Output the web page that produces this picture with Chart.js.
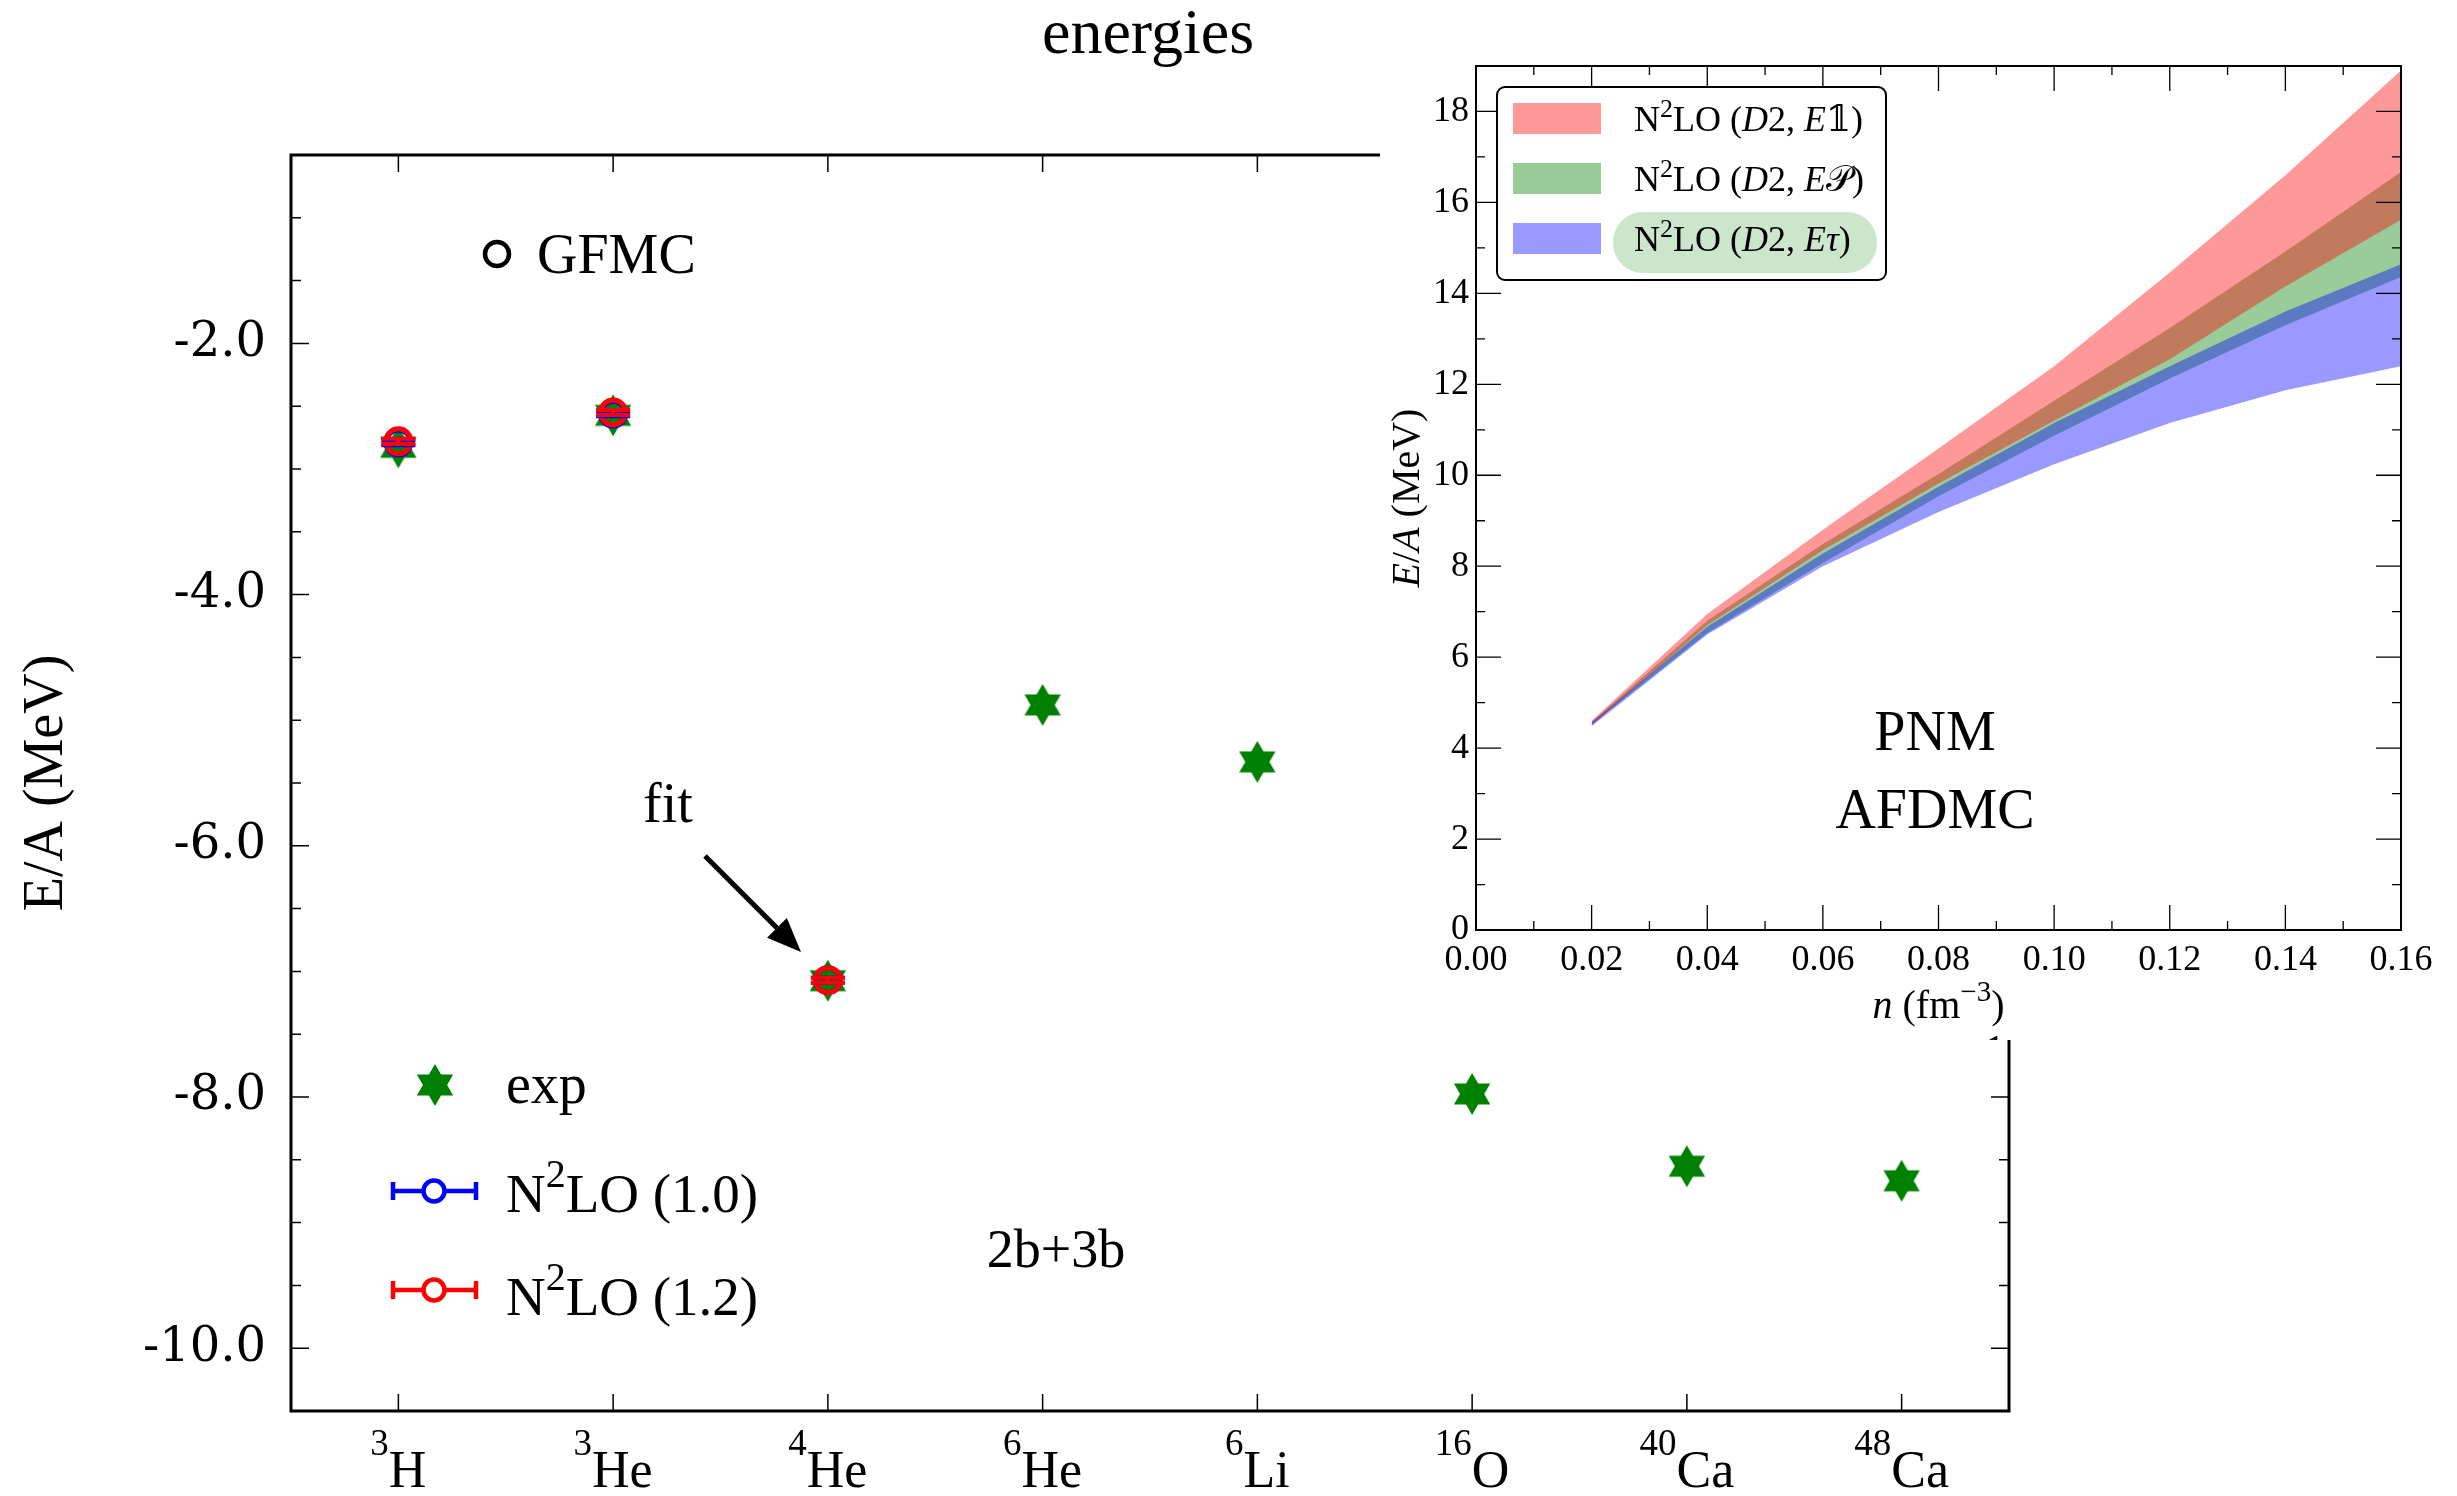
<!DOCTYPE html>
<html>
<head>
<meta charset="utf-8">
<title>energies</title>
<script src="https://cdn.jsdelivr.net/npm/chart.js@4.4.1/dist/chart.umd.min.js"></script>
<style>
  html, body { margin: 0; padding: 0; background: #fff; }
  #wrap { position: relative; width: 2457px; height: 1496px; overflow: hidden; }
  #mainChart { position: absolute; left: 0; top: 0; }
  #pnmChart { position: absolute; left: 1380px; top: 0; background: #fff; }
</style>
</head>
<body>
<div id="wrap">
  <canvas id="mainChart" width="2457" height="1496"></canvas>
  <canvas id="pnmChart" width="1077" height="1040"></canvas>
</div>
<script>
// nuclei along the x axis
const massNumbers = ['3', '3', '4', '6', '6', '16', '40', '48'];
const elements = ['H', 'He', 'He', 'He', 'Li', 'O', 'Ca', 'Ca'];
// experimental E/A (MeV)
const expEnergy = [-2.827, -2.573, -7.074, -4.878, -5.332, -7.976, -8.551, -8.667];
// N2LO results for 3H, 3He, 4He
const n2loIdx = [0, 1, 2];
const n2lo10 = [-2.79, -2.56, -7.07];
const n2lo10Err = [0.02, 0.02, 0.02];
const n2lo12 = [-2.78, -2.55, -7.07];
const n2lo12Err = [0.02, 0.02, 0.02];

// pure neutron matter, AFDMC bands
const density = [0.02, 0.04, 0.06, 0.08, 0.10, 0.12, 0.14, 0.16];
const e1Low = [4.50, 6.70, 8.35, 9.82, 11.20, 12.55, 14.15, 15.62];
const e1High = [4.60, 6.95, 8.80, 10.59, 12.40, 14.46, 16.60, 18.90];
const ePLow = [4.52, 6.53, 8.07, 9.54, 10.87, 12.13, 13.30, 14.36];
const ePHigh = [4.58, 6.80, 8.49, 10.03, 11.64, 13.24, 14.92, 16.67];
const eTauLow = [4.48, 6.50, 8.00, 9.19, 10.24, 11.15, 11.87, 12.40];
const eTauHigh = [4.56, 6.67, 8.28, 9.75, 11.15, 12.40, 13.60, 14.64];

const SERIF = '"Liberation Serif", "DejaVu Serif", serif';
const RED_BAND = 'rgba(255,0,0,0.4)';
const GREEN_BAND = 'rgba(0,128,0,0.4)';
const BLUE_BAND = 'rgba(0,0,255,0.4)';

Chart.defaults.font.family = SERIF;
Chart.defaults.color = '#000';

// six-pointed star used for the experimental points
function makeStar(r, color) {
  const c = document.createElement('canvas');
  const s = Math.ceil(r * 2 + 2);
  c.width = s; c.height = s;
  const g = c.getContext('2d');
  g.fillStyle = color;
  [-90, 90].forEach(a0 => {
    g.beginPath();
    for (let k = 0; k < 3; k++) {
      const a = (a0 + k * 120) * Math.PI / 180;
      const px = s / 2 + r * Math.cos(a), py = s / 2 + r * Math.sin(a);
      if (k) g.lineTo(px, py); else g.moveTo(px, py);
    }
    g.closePath();
    g.fill();
  });
  return c;
}
const starImg = makeStar(21, '#008000');

// text made of runs: [text, kind] with kind '' normal, 'i' italic, 's' superscript
function drawRuns(ctx, runs, x, y, size, align, raise) {
  raise = raise === undefined ? 0.45 : raise;
  const fontFor = k => (k === 'i' ? 'italic ' : '') + Math.round(k === 's' ? size * 0.72 : size) + 'px ' + SERIF;
  let w = 0;
  runs.forEach(([t, k]) => { ctx.font = fontFor(k); w += ctx.measureText(t).width; });
  let cx = align === 'center' ? x - w / 2 : align === 'right' ? x - w : x;
  ctx.textAlign = 'left';
  ctx.textBaseline = 'alphabetic';
  runs.forEach(([t, k]) => {
    ctx.font = fontFor(k);
    ctx.fillText(t, cx, k === 's' ? y - size * raise : y);
    cx += ctx.measureText(t).width;
  });
  return w;
}

function errCircle(ctx, cx, cy, col) {
  ctx.strokeStyle = col;
  ctx.lineWidth = 4.5;
  ctx.beginPath();
  ctx.moveTo(cx - 41, cy); ctx.lineTo(cx + 42, cy);
  ctx.moveTo(cx - 41, cy - 9); ctx.lineTo(cx - 41, cy + 9);
  ctx.moveTo(cx + 42, cy - 9); ctx.lineTo(cx + 42, cy + 9);
  ctx.stroke();
  ctx.fillStyle = '#fff';
  ctx.beginPath();
  ctx.arc(cx, cy, 10.5, 0, Math.PI * 2);
  ctx.fill();
  ctx.stroke();
}

const mainDecor = {
  id: 'mainDecor',
  afterDatasetsDraw(chart) {
    const { ctx, scales: { x, y } } = chart;
    ctx.save();
    // error bars with caps
    [[n2lo10, n2lo10Err, '#0000ff'], [n2lo12, n2lo12Err, '#ff0000']].forEach(([vals, errs, col]) => {
      ctx.strokeStyle = col;
      ctx.lineWidth = 4;
      vals.forEach((v, i) => {
        const px = x.getPixelForValue(n2loIdx[i]);
        const yl = y.getPixelForValue(v - errs[i]);
        const yh = y.getPixelForValue(v + errs[i]);
        ctx.beginPath();
        ctx.moveTo(px, yl); ctx.lineTo(px, yh);
        ctx.moveTo(px - 17, yl); ctx.lineTo(px + 17, yl);
        ctx.moveTo(px - 17, yh); ctx.lineTo(px + 17, yh);
        ctx.stroke();
      });
    });
    ctx.restore();
  },
  afterDraw(chart) {
    const { ctx, chartArea: a, scales: { x, y } } = chart;
    ctx.save();
    ctx.strokeStyle = '#000';
    ctx.fillStyle = '#000';

    // frame
    ctx.lineWidth = 3;
    ctx.strokeRect(a.left, a.top, a.right - a.left, a.bottom - a.top);

    // inward ticks
    ctx.lineWidth = 1.5;
    ctx.beginPath();
    massNumbers.forEach((m, i) => {
      const px = x.getPixelForValue(i);
      ctx.moveTo(px, a.bottom); ctx.lineTo(px, a.bottom - 17);
      ctx.moveTo(px, a.top); ctx.lineTo(px, a.top + 17);
    });
    y.ticks.forEach(t => {
      const py = y.getPixelForValue(t.value);
      const len = Math.abs(t.value % 2) < 1e-9 ? 18 : 10;
      ctx.moveTo(a.left, py); ctx.lineTo(a.left + len, py);
      ctx.moveTo(a.right, py); ctx.lineTo(a.right - len, py);
    });
    ctx.stroke();

    // nucleus labels
    massNumbers.forEach((m, i) => {
      drawRuns(ctx, [[m, 's'], [elements[i], '']], x.getPixelForValue(i), 1487, 52, 'center', 0.62);
    });

    // axis title
    ctx.save();
    ctx.translate(47, (a.top + a.bottom) / 2);
    ctx.rotate(-Math.PI / 2);
    ctx.font = '56px ' + SERIF;
    ctx.textAlign = 'center';
    ctx.textBaseline = 'middle';
    ctx.fillText('E/A (MeV)', 0, 0);
    ctx.restore();

    // figure title
    ctx.font = '64px ' + SERIF;
    ctx.textAlign = 'center';
    ctx.textBaseline = 'alphabetic';
    ctx.fillText('energies', 1148, 53);

    // GFMC key
    ctx.lineWidth = 4.5;
    ctx.beginPath();
    ctx.arc(497, 254, 12, 0, Math.PI * 2);
    ctx.stroke();
    ctx.font = '56px ' + SERIF;
    ctx.textAlign = 'left';
    ctx.fillText('GFMC', 537, 273);

    // annotations
    ctx.fillText('fit', 643, 822);
    ctx.textAlign = 'center';
    ctx.font = '54px ' + SERIF;
    ctx.fillText('2b+3b', 1056, 1267);

    // arrow to the fitted 4He point
    const x0 = 705, y0 = 856, x1 = 801, y1 = 952;
    const ang = Math.atan2(y1 - y0, x1 - x0);
    const hl = 34, hw = 14;
    const bx = x1 - hl * Math.cos(ang), by = y1 - hl * Math.sin(ang);
    ctx.lineWidth = 5;
    ctx.beginPath();
    ctx.moveTo(x0, y0); ctx.lineTo(bx, by);
    ctx.stroke();
    ctx.beginPath();
    ctx.moveTo(x1, y1);
    ctx.lineTo(bx + hw * Math.sin(ang), by - hw * Math.cos(ang));
    ctx.lineTo(bx - hw * Math.sin(ang), by + hw * Math.cos(ang));
    ctx.closePath();
    ctx.fill();

    // key
    ctx.drawImage(starImg, 435 - starImg.width / 2, 1085 - starImg.height / 2);
    ctx.fillStyle = '#000';
    ctx.font = '56px ' + SERIF;
    ctx.textAlign = 'left';
    ctx.fillText('exp', 506, 1103);
    errCircle(ctx, 434, 1191, '#0000ff');
    errCircle(ctx, 434, 1290, '#ff0000');
    ctx.fillStyle = '#000';
    drawRuns(ctx, [['N', ''], ['2', 's'], ['LO (1.0)', '']], 506, 1212, 55, 'left', 0.45);
    drawRuns(ctx, [['N', ''], ['2', 's'], ['LO (1.2)', '']], 506, 1315, 55, 'left', 0.45);
    ctx.restore();
  }
};

// ---- inset: neutron matter equation of state ----
const pnmDecor = {
  id: 'pnmDecor',
  afterDraw(chart) {
    const { ctx, chartArea: a, scales: { x, y } } = chart;
    ctx.save();
    ctx.strokeStyle = '#000';
    ctx.fillStyle = '#000';
    ctx.lineWidth = 2;
    ctx.strokeRect(a.left, a.top, a.right - a.left, a.bottom - a.top);

    ctx.lineWidth = 1.3;
    ctx.beginPath();
    x.ticks.forEach(t => {
      const px = x.getPixelForValue(t.value);
      const len = Math.round(t.value * 100) % 2 === 0 ? 25 : 9;
      ctx.moveTo(px, a.bottom); ctx.lineTo(px, a.bottom - len);
      ctx.moveTo(px, a.top); ctx.lineTo(px, a.top + len);
    });
    y.ticks.forEach(t => {
      const py = y.getPixelForValue(t.value);
      const len = Math.round(t.value) % 2 === 0 ? 25 : 9;
      ctx.moveTo(a.left, py); ctx.lineTo(a.left + len, py);
      ctx.moveTo(a.right, py); ctx.lineTo(a.right - len, py);
    });
    ctx.stroke();

    // axis titles
    drawRuns(ctx, [['n', 'i'], [' (fm', ''], ['\u22123', 's'], [')', '']], (a.left + a.right) / 2, 1018, 40, 'center', 0.42);
    ctx.save();
    ctx.translate(26, (a.top + a.bottom) / 2);
    ctx.rotate(-Math.PI / 2);
    drawRuns(ctx, [['E', 'i'], ['/', ''], ['A', 'i'], [' (MeV)', '']], 0, 13, 40, 'center');
    ctx.restore();

    // PNM / AFDMC label
    ctx.font = '56px ' + SERIF;
    ctx.textAlign = 'center';
    ctx.fillText('PNM', 555, 750);
    ctx.fillText('AFDMC', 555, 828);

    // legend box
    ctx.fillStyle = '#fff';
    ctx.lineWidth = 2;
    ctx.beginPath();
    ctx.roundRect(117, 87, 389, 193, 8);
    ctx.fill();
    ctx.stroke();
    ctx.fillStyle = 'rgba(0,128,0,0.2)';
    ctx.beginPath();
    ctx.roundRect(233, 212, 264, 61, 30);
    ctx.fill();
    const rows = [
      [RED_BAND, [['N', ''], ['2', 's'], ['LO (', ''], ['D', 'i'], ['2, ', ''], ['E', 'i'], ['\uD835\uDFD9', ''], [')', '']]],
      [GREEN_BAND, [['N', ''], ['2', 's'], ['LO (', ''], ['D', 'i'], ['2, ', ''], ['E', 'i'], ['\uD835\uDCAB', ''], [')', '']]],
      [BLUE_BAND, [['N', ''], ['2', 's'], ['LO (', ''], ['D', 'i'], ['2, ', ''], ['E', 'i'], ['\u03C4', 'i'], [')', '']]]
    ];
    rows.forEach(([col, runs], r) => {
      const top = 103 + r * 60;
      ctx.fillStyle = col;
      ctx.fillRect(133, top, 88, 31);
      ctx.fillStyle = '#000';
      drawRuns(ctx, runs, 254, top + 28, 36, 'left', 0.4);
    });

    ctx.font = '40px ' + SERIF;
    ctx.textAlign = 'center';
    ctx.fillText('1', 615, 1062);
    ctx.restore();
  }
};

function band(low, high, color, order) {
  return [
    { data: low, borderWidth: 0, pointRadius: 0, fill: false, order: order },
    { data: high, borderWidth: 0, pointRadius: 0, fill: '-1', backgroundColor: color, order: order }
  ];
}

function drawCharts() {
  new Chart(document.getElementById('mainChart'), {
    type: 'scatter',
    data: {
      datasets: [
        {
          label: 'N2LO (1.2)',
          data: n2loIdx.map((k, i) => ({ x: k, y: n2lo12[i] })),
          pointStyle: 'circle', pointRadius: 12.5, pointBorderWidth: 5,
          borderColor: '#ff0000', backgroundColor: 'rgba(0,0,0,0)', order: 0
        },
        {
          label: 'N2LO (1.0)',
          data: n2loIdx.map((k, i) => ({ x: k, y: n2lo10[i] })),
          pointStyle: 'circle', pointRadius: 12.5, pointBorderWidth: 5,
          borderColor: '#0000ff', backgroundColor: 'rgba(0,0,0,0)', order: 1
        },
        {
          label: 'exp',
          data: expEnergy.map((v, i) => ({ x: i, y: v })),
          pointStyle: starImg, order: 2
        }
      ]
    },
    options: {
      responsive: false,
      animation: false,
      devicePixelRatio: 1,
      layout: { padding: { top: 155, right: 448, left: 0, bottom: 0 } },
      plugins: { legend: { display: false }, tooltip: { enabled: false } },
      scales: {
        x: {
          type: 'linear', min: -0.5, max: 7.5,
          grid: { display: false }, border: { display: false },
          ticks: { display: false, stepSize: 1 },
          afterFit(s) { s.height = 85; }
        },
        y: {
          min: -10.5, max: -0.5,
          grid: { display: false, drawTicks: false }, border: { display: false },
          ticks: {
            stepSize: 0.5, autoSkip: false, padding: 25,
            font: { family: '"DejaVu Serif", serif', size: 48 },
            callback: v => (Math.abs(v % 2) < 1e-9 ? v.toFixed(1) : '')
          },
          afterFit(s) { s.width = 291; }
        }
      }
    },
    plugins: [mainDecor]
  });

  new Chart(document.getElementById('pnmChart'), {
    type: 'line',
    data: {
      labels: density,
      datasets: [
        ...band(eTauLow, eTauHigh, BLUE_BAND, 1),
        ...band(e1Low, e1High, RED_BAND, 2),
        ...band(ePLow, ePHigh, GREEN_BAND, 3)
      ].map(d => ({ ...d, data: d.data.map((v, i) => ({ x: density[i], y: v })) }))
    },
    options: {
      responsive: false,
      animation: false,
      devicePixelRatio: 1,
      layout: { padding: { top: 66, right: 56, left: 0, bottom: 0 } },
      plugins: { legend: { display: false }, tooltip: { enabled: false }, filler: { propagate: false } },
      scales: {
        x: {
          type: 'linear', min: 0, max: 0.16,
          grid: { display: false, drawTicks: false }, border: { display: false },
          ticks: {
            stepSize: 0.01, autoSkip: false, maxRotation: 0, padding: 9,
            font: { size: 36 },
            callback: v => (Math.round(v * 100) % 2 === 0 ? v.toFixed(2) : '')
          },
          afterFit(s) { s.height = 110; }
        },
        y: {
          min: 0, max: 19,
          grid: { display: false, drawTicks: false }, border: { display: false },
          ticks: {
            stepSize: 1, autoSkip: false, padding: 7,
            font: { size: 36 },
            callback: v => (Math.round(v) % 2 === 0 ? String(v) : '')
          },
          afterFit(s) { s.width = 96; }
        }
      }
    },
    plugins: [pnmDecor]
  });
}

// make sure the serif faces are ready before the canvases are drawn
Promise.all([
  document.fonts.load('56px "Liberation Serif"'),
  document.fonts.load('italic 56px "Liberation Serif"'),
  document.fonts.load('48px "DejaVu Serif"')
]).then(drawCharts, drawCharts);
</script>
</body>
</html>
